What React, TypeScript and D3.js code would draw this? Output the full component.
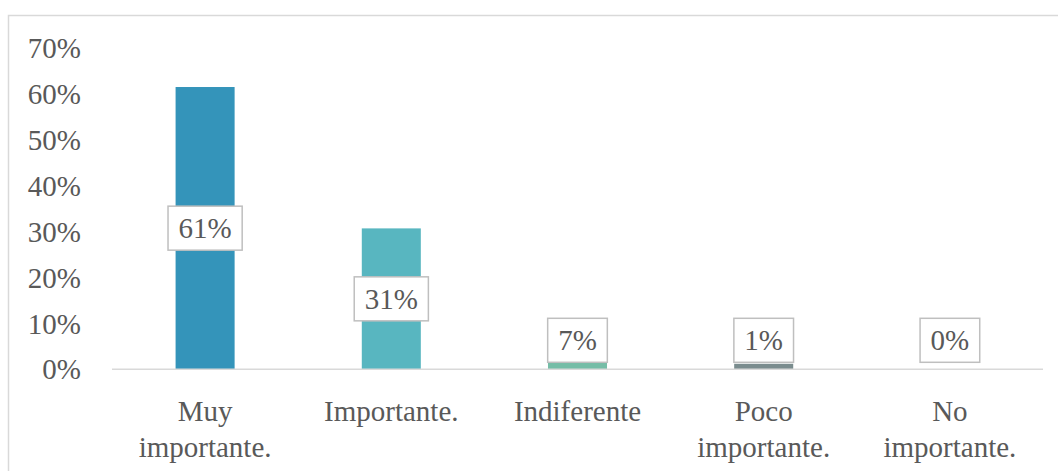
import React from "react";
import * as d3 from "d3";

const categories: string[][] = [
  ["Muy", "importante."],
  ["Importante."],
  ["Indiferente"],
  ["Poco", "importante."],
  ["No", "importante."],
];
const values: number[] = [0.615, 0.307, 0.014, 0.012, 0];
const labels: string[] = ["61%", "31%", "7%", "1%", "0%"];
const colors: string[] = ["#3494BA", "#58B6C0", "#75BDA7", "#7A8C8E", "#84ACB6"];
const yTicks: number[] = [0, 0.1, 0.2, 0.3, 0.4, 0.5, 0.6, 0.7];

const W = 1058;
const H = 471;
const FONT = "Liberation Serif, Tinos, DejaVu Serif, serif";
const FS = 29;
const TEXT = "#595959";

export default function App() {
  const x = d3
    .scaleBand<number>()
    .domain(d3.range(categories.length))
    .range([112, 1043])
    .paddingInner(0.683)
    .paddingOuter(0.3415);
  const y = d3.scaleLinear().domain([0, 0.7]).range([369.3, 48]);
  const fmt = d3.format(".0%");
  const boxH = 44;
  const padX = 10.5;
  const charW = (s: string) =>
    s.split("").reduce((a, c) => a + (c === "%" ? 0.833 : 0.5), 0) * FS;
  const ts: React.CSSProperties = { fontFamily: FONT, fontSize: FS, fill: TEXT };

  return (
    <svg
      width={W}
      height={H}
      style={{ position: "absolute", left: 0, top: 0, background: "#fff" }}
    >
      <rect x={8.5} y={15.5} width={W + 20} height={H + 20} fill="#fff" stroke="#D9D9D9" strokeWidth={1.5} />
      {yTicks.map((t) => (
        <text key={t} x={81} y={y(t)} dy="0.35em" textAnchor="end" style={ts}>
          {fmt(t)}
        </text>
      ))}
      {values.map((v, i) => (
        <rect
          key={i}
          x={x(i)}
          y={y(v)}
          width={x.bandwidth()}
          height={y(0) - y(v)}
          fill={colors[i]}
        />
      ))}
      <line x1={112} x2={1043} y1={y(0)} y2={y(0)} stroke="#D9D9D9" strokeWidth={1.5} />
      {values.map((v, i) => {
        const cx = (x(i) as number) + x.bandwidth() / 2;
        const cy = Math.min((y(v) + y(0)) / 2, y(0) - 7 - boxH / 2);
        const bw = charW(labels[i]) + padX * 2;
        return (
          <g key={"l" + i}>
            <rect
              x={cx - bw / 2}
              y={cy - boxH / 2}
              width={bw}
              height={boxH}
              fill="#fff"
              stroke="#BFBFBF"
              strokeWidth={1.5}
            />
            <text x={cx} y={cy} dy="0.35em" textAnchor="middle" style={ts}>
              {labels[i]}
            </text>
          </g>
        );
      })}
      {categories.map((lines, i) => {
        const cx = (x(i) as number) + x.bandwidth() / 2;
        return (
          <text key={"c" + i} x={cx} y={421} textAnchor="middle" style={ts}>
            {lines.map((ln, j) => (
              <tspan key={j} x={cx} dy={j === 0 ? 0 : 36}>
                {ln}
              </tspan>
            ))}
          </text>
        );
      })}
    </svg>
  );
}
